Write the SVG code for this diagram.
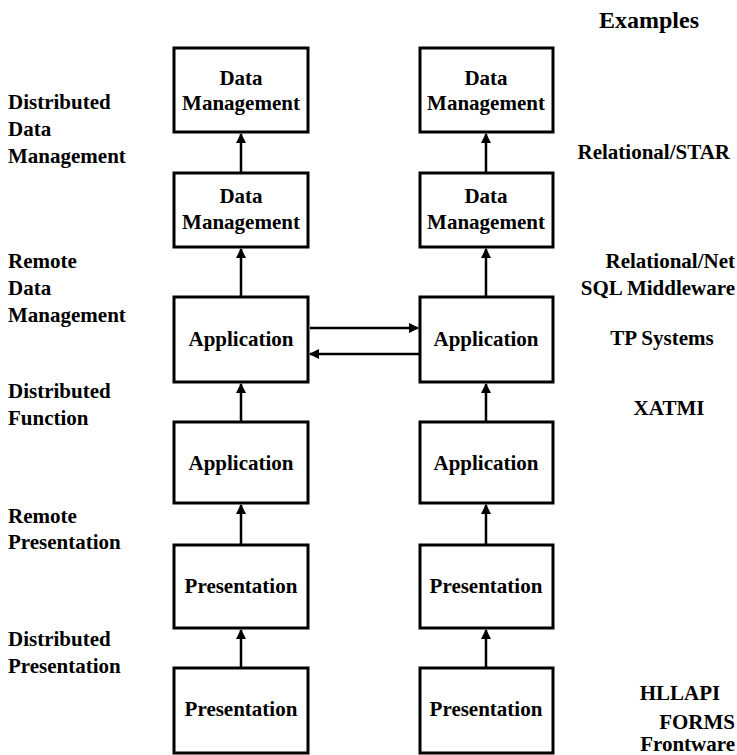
<svg xmlns="http://www.w3.org/2000/svg" width="737" height="755" viewBox="0 0 737 755">
<style>
text{font-family:"Liberation Serif","Times New Roman",serif;font-weight:bold;font-size:21px;fill:#000}
.box rect{fill:#fff;stroke:#000;stroke-width:3}
.bt{text-anchor:middle}
.conn line{stroke:#000;stroke-width:2.5;fill:none}
.hd{font-size:24px}
</style>
<defs>
<marker id="ah" viewBox="0 0 10 10" refX="9" refY="5" markerWidth="4" markerHeight="4" orient="auto" markerUnits="strokeWidth">
<path d="M0,0 L10,5 L0,10 z" fill="#000"/>
</marker>
</defs>
<rect width="737" height="755" fill="#fff"/>
<g id="connectors" class="conn">
<line x1="241" y1="173" x2="241" y2="134" marker-end="url(#ah)"/>
<line x1="241" y1="297" x2="241" y2="249" marker-end="url(#ah)"/>
<line x1="241" y1="422" x2="241" y2="384" marker-end="url(#ah)"/>
<line x1="241" y1="545" x2="241" y2="505" marker-end="url(#ah)"/>
<line x1="241" y1="668" x2="241" y2="630" marker-end="url(#ah)"/>
<line x1="486" y1="173" x2="486" y2="134" marker-end="url(#ah)"/>
<line x1="486" y1="297" x2="486" y2="249" marker-end="url(#ah)"/>
<line x1="486" y1="422" x2="486" y2="384" marker-end="url(#ah)"/>
<line x1="486" y1="545" x2="486" y2="505" marker-end="url(#ah)"/>
<line x1="486" y1="668" x2="486" y2="630" marker-end="url(#ah)"/>
<line x1="310" y1="328" x2="418" y2="328" marker-end="url(#ah)"/>
<line x1="420" y1="354" x2="310" y2="354" marker-end="url(#ah)"/>
</g>
<g id="L1" class="box"><rect x="174" y="48" width="134" height="84"/><text class="bt" x="241" y="85">Data</text><text class="bt" x="241" y="110">Management</text></g>
<g id="L2" class="box"><rect x="174" y="173" width="134" height="74"/><text class="bt" x="241" y="203">Data</text><text class="bt" x="241" y="229">Management</text></g>
<g id="L3" class="box"><rect x="174" y="297" width="134" height="85"/><text class="bt" x="241" y="346">Application</text></g>
<g id="L4" class="box"><rect x="174" y="422" width="134" height="81"/><text class="bt" x="241" y="470">Application</text></g>
<g id="L5" class="box"><rect x="174" y="545" width="134" height="83"/><text class="bt" x="241" y="593">Presentation</text></g>
<g id="L6" class="box"><rect x="174" y="668" width="134" height="85"/><text class="bt" x="241" y="716">Presentation</text></g>
<g id="R1" class="box"><rect x="420" y="48" width="133" height="84"/><text class="bt" x="486" y="85">Data</text><text class="bt" x="486" y="110">Management</text></g>
<g id="R2" class="box"><rect x="420" y="173" width="133" height="74"/><text class="bt" x="486" y="203">Data</text><text class="bt" x="486" y="229">Management</text></g>
<g id="R3" class="box"><rect x="420" y="297" width="133" height="85"/><text class="bt" x="486" y="346">Application</text></g>
<g id="R4" class="box"><rect x="420" y="422" width="133" height="81"/><text class="bt" x="486" y="470">Application</text></g>
<g id="R5" class="box"><rect x="420" y="545" width="133" height="83"/><text class="bt" x="486" y="593">Presentation</text></g>
<g id="R6" class="box"><rect x="420" y="668" width="133" height="85"/><text class="bt" x="486" y="716">Presentation</text></g>
<g id="left-labels">
<text x="8" y="109">Distributed</text><text x="8" y="136">Data</text><text x="8" y="163">Management</text>
<text x="8" y="268">Remote</text><text x="8" y="295">Data</text><text x="8" y="322">Management</text>
<text x="8" y="398">Distributed</text><text x="8" y="425">Function</text>
<text x="8" y="523">Remote</text><text x="8" y="549">Presentation</text>
<text x="8" y="646">Distributed</text><text x="8" y="673">Presentation</text>
</g>
<g id="right-labels">
<text class="hd" x="599" y="28">Examples</text>
<text x="730" y="159" text-anchor="end">Relational/STAR</text>
<text x="735" y="268" text-anchor="end">Relational/Net</text>
<text x="735" y="295" text-anchor="end">SQL Middleware</text>
<text x="662" y="345" text-anchor="middle">TP Systems</text>
<text x="669" y="415" text-anchor="middle">XATMI</text>
<text x="680" y="700" text-anchor="middle">HLLAPI</text>
<text x="735" y="729" text-anchor="end">FORMS</text>
<text x="735" y="751" text-anchor="end">Frontware</text>
</g>
</svg>
